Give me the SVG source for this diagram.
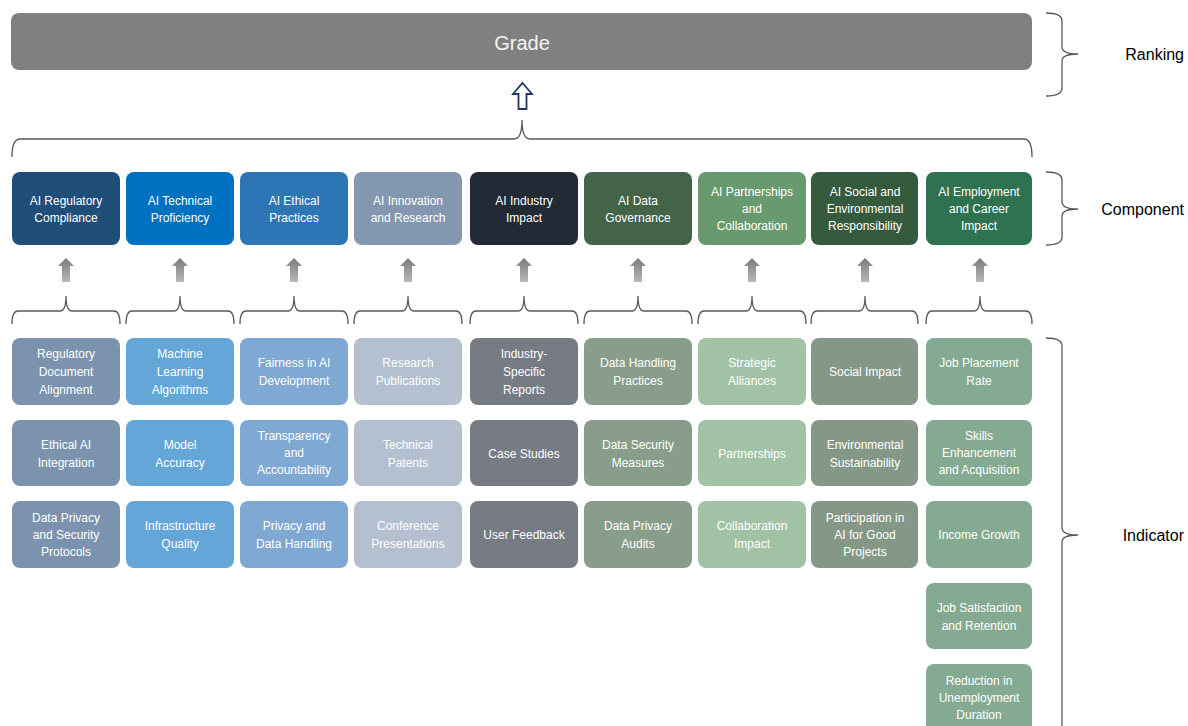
<svg xmlns="http://www.w3.org/2000/svg" width="1188" height="726" viewBox="0 0 1188 726">
  <defs>
    <linearGradient id="grayArrow" x1="0" y1="0" x2="0" y2="1">
      <stop offset="0" stop-color="#7a7a7a"/>
      <stop offset="1" stop-color="#b8b8b8"/>
    </linearGradient>
    <style>
      text { font-family: "Liberation Sans", Arial, sans-serif; fill: #ffffff; text-anchor: middle; }
      .comp text, .ind text { font-size: 12px; }
      .lbl { fill: #000000; font-size: 16px; text-anchor: end; }
      .brace { fill: none; stroke: #595959; stroke-width: 1.3; }
      .garrow { fill: url(#grayArrow); }
    </style>
  </defs>
  <rect width="1188" height="726" fill="#ffffff"/>

  <!-- Ranking -->
  <g id="grade">
    <rect x="11" y="13" width="1021" height="57" rx="8" ry="8" fill="#808080"/>
    <text x="522" y="50" style="font-size:20px;fill:#f4f4f4">Grade</text>
  </g>

  <!-- Connectors: braces and arrows -->
  <g id="connectors">
    <path d="M522.5 83 L532 94 L526.5 94 L526.5 109 L518.5 109 L518.5 94 L513 94 Z" fill="#ffffff" stroke="#203864" stroke-width="1.8" stroke-linejoin="miter"/>
    <path class="brace" d="M12 157 Q12 139 20 139 L514 139 Q522 139 522 120 Q522 139 530 139 L1024 139 Q1032 139 1032 157"/>

    <!-- component-level arrows -->
    <g class="garrow">
      <path d="M66 258 L74 266 L70 266 L70 282 L62 282 L62 266 L58 266 Z"/>
      <path d="M180 258 L188 266 L184 266 L184 282 L176 282 L176 266 L172 266 Z"/>
      <path d="M294 258 L302 266 L298 266 L298 282 L290 282 L290 266 L286 266 Z"/>
      <path d="M408 258 L416 266 L412 266 L412 282 L404 282 L404 266 L400 266 Z"/>
      <path d="M524 258 L532 266 L528 266 L528 282 L520 282 L520 266 L516 266 Z"/>
      <path d="M638 258 L646 266 L642 266 L642 282 L634 282 L634 266 L630 266 Z"/>
      <path d="M752 258 L760 266 L756 266 L756 282 L748 282 L748 266 L744 266 Z"/>
      <path d="M865 258 L873 266 L869 266 L869 282 L861 282 L861 266 L857 266 Z"/>
      <path d="M980 258 L988 266 L984 266 L984 282 L976 282 L976 266 L972 266 Z"/>
    </g>

    <!-- indicator group braces -->
    <path class="brace" d="M12 324 Q12 311 18 311 L60 311 Q66 311 66 296 Q66 311 72 311 L114 311 Q120 311 120 324"/>
    <path class="brace" d="M126 324 Q126 311 132 311 L174 311 Q180 311 180 296 Q180 311 186 311 L228 311 Q234 311 234 324"/>
    <path class="brace" d="M240 324 Q240 311 246 311 L288 311 Q294 311 294 296 Q294 311 300 311 L342 311 Q348 311 348 324"/>
    <path class="brace" d="M354 324 Q354 311 360 311 L402 311 Q408 311 408 296 Q408 311 414 311 L456 311 Q462 311 462 324"/>
    <path class="brace" d="M470 324 Q470 311 476 311 L518 311 Q524 311 524 296 Q524 311 530 311 L572 311 Q578 311 578 324"/>
    <path class="brace" d="M584 324 Q584 311 590 311 L632 311 Q638 311 638 296 Q638 311 644 311 L686 311 Q692 311 692 324"/>
    <path class="brace" d="M698 324 Q698 311 704 311 L746 311 Q752 311 752 296 Q752 311 758 311 L800 311 Q806 311 806 324"/>
    <path class="brace" d="M811 324 Q811 311 817 311 L859 311 Q865 311 865 296 Q865 311 871 311 L912 311 Q918 311 918 324"/>
    <path class="brace" d="M926 324 Q926 311 932 311 L974 311 Q980 311 980 296 Q980 311 986 311 L1026 311 Q1032 311 1032 324"/>

    <!-- level braces on the right -->
    <path class="brace" d="M1046 13 Q1062 13 1062 21 L1062 47 Q1062 54 1078 54 Q1062 54 1062 61 L1062 88 Q1062 96 1046 96"/>
    <path class="brace" d="M1046 172 Q1062 172 1062 180 L1062 202 Q1062 209 1078 209 Q1062 209 1062 216 L1062 237 Q1062 245 1046 245"/>
    <path class="brace" d="M1046 338 Q1062 338 1062 346 L1062 528 Q1062 535 1078 535 Q1062 535 1062 542 L1062 740"/>
  </g>

  <g id="level-labels">
    <text class="lbl" x="1184" y="60">Ranking</text>
    <text class="lbl" x="1184" y="215">Component</text>
    <text class="lbl" x="1184" y="541">Indicator</text>
  </g>

  <!-- Components -->
  <g class="comp">
    <g id="c-regulatory"><rect x="12" y="172" width="108" height="73" rx="8" fill="#1f4e79"/>
      <text x="66" y="205">AI Regulatory<tspan x="66" dy="17">Compliance</tspan></text></g>
    <g id="c-technical"><rect x="126" y="172" width="108" height="73" rx="8" fill="#0070c0"/>
      <text x="180" y="205">AI Technical<tspan x="180" dy="17">Proficiency</tspan></text></g>
    <g id="c-ethical"><rect x="240" y="172" width="108" height="73" rx="8" fill="#2e75b6"/>
      <text x="294" y="205">AI Ethical<tspan x="294" dy="17">Practices</tspan></text></g>
    <g id="c-innovation"><rect x="354" y="172" width="108" height="73" rx="8" fill="#8497b0"/>
      <text x="408" y="205">AI Innovation<tspan x="408" dy="17">and Research</tspan></text></g>
    <g id="c-industry"><rect x="470" y="172" width="108" height="73" rx="8" fill="#222a35"/>
      <text x="524" y="205">AI Industry<tspan x="524" dy="17">Impact</tspan></text></g>
    <g id="c-data"><rect x="584" y="172" width="108" height="73" rx="8" fill="#44644a"/>
      <text x="638" y="205">AI Data<tspan x="638" dy="17">Governance</tspan></text></g>
    <g id="c-partnerships"><rect x="698" y="172" width="108" height="73" rx="8" fill="#689a70"/>
      <text x="752" y="196">AI Partnerships<tspan x="752" dy="17">and</tspan><tspan x="752" dy="17">Collaboration</tspan></text></g>
    <g id="c-social"><rect x="811" y="172" width="107" height="73" rx="8" fill="#355a3d"/>
      <text x="865" y="196">AI Social and<tspan x="865" dy="17">Environmental</tspan><tspan x="865" dy="17">Responsibility</tspan></text></g>
    <g id="c-employment"><rect x="926" y="172" width="106" height="73" rx="8" fill="#2f7250"/>
      <text x="979" y="196">AI Employment<tspan x="979" dy="17">and Career</tspan><tspan x="979" dy="17">Impact</tspan></text></g>
  </g>

  <!-- Indicators -->
  <g class="ind">
    <!-- regulatory compliance -->
    <g id="i-reg-doc"><rect x="12" y="338" width="108" height="67" rx="8" fill="#7b93ae"/>
      <text x="66" y="358">Regulatory<tspan x="66" dy="18">Document</tspan><tspan x="66" dy="18">Alignment</tspan></text></g>
    <g id="i-ethical-ai"><rect x="12" y="420" width="108" height="66" rx="8" fill="#7b93ae"/>
      <text x="66" y="449">Ethical AI<tspan x="66" dy="18">Integration</tspan></text></g>
    <g id="i-privacy-protocols"><rect x="12" y="501" width="108" height="67" rx="8" fill="#7b93ae"/>
      <text x="66" y="522">Data Privacy<tspan x="66" dy="17">and Security</tspan><tspan x="66" dy="17">Protocols</tspan></text></g>

    <!-- technical proficiency -->
    <g id="i-ml"><rect x="126" y="338" width="108" height="67" rx="8" fill="#64a6d8"/>
      <text x="180" y="358">Machine<tspan x="180" dy="18">Learning</tspan><tspan x="180" dy="18">Algorithms</tspan></text></g>
    <g id="i-accuracy"><rect x="126" y="420" width="108" height="66" rx="8" fill="#64a6d8"/>
      <text x="180" y="449">Model<tspan x="180" dy="18">Accuracy</tspan></text></g>
    <g id="i-infra"><rect x="126" y="501" width="108" height="67" rx="8" fill="#64a6d8"/>
      <text x="180" y="530">Infrastructure<tspan x="180" dy="18">Quality</tspan></text></g>

    <!-- ethical practices -->
    <g id="i-fairness"><rect x="240" y="338" width="108" height="67" rx="8" fill="#7fa8d3"/>
      <text x="294" y="367">Fairness in AI<tspan x="294" dy="18">Development</tspan></text></g>
    <g id="i-transparency"><rect x="240" y="420" width="108" height="66" rx="8" fill="#7fa8d3"/>
      <text x="294" y="440">Transparency<tspan x="294" dy="17">and</tspan><tspan x="294" dy="17">Accountability</tspan></text></g>
    <g id="i-privacy-handling"><rect x="240" y="501" width="108" height="67" rx="8" fill="#7fa8d3"/>
      <text x="294" y="530">Privacy and<tspan x="294" dy="18">Data Handling</tspan></text></g>

    <!-- innovation and research -->
    <g id="i-publications"><rect x="354" y="338" width="108" height="67" rx="8" fill="#b4bfd0"/>
      <text x="408" y="367">Research<tspan x="408" dy="18">Publications</tspan></text></g>
    <g id="i-patents"><rect x="354" y="420" width="108" height="66" rx="8" fill="#b4bfd0"/>
      <text x="408" y="449">Technical<tspan x="408" dy="18">Patents</tspan></text></g>
    <g id="i-conference"><rect x="354" y="501" width="108" height="67" rx="8" fill="#b4bfd0"/>
      <text x="408" y="530">Conference<tspan x="408" dy="18">Presentations</tspan></text></g>

    <!-- industry impact -->
    <g id="i-industry-reports"><rect x="470" y="338" width="108" height="67" rx="8" fill="#767b84"/>
      <text x="524" y="358">Industry-<tspan x="524" dy="18">Specific</tspan><tspan x="524" dy="18">Reports</tspan></text></g>
    <g id="i-case-studies"><rect x="470" y="420" width="108" height="66" rx="8" fill="#767b84"/>
      <text x="524" y="458">Case Studies</text></g>
    <g id="i-user-feedback"><rect x="470" y="501" width="108" height="67" rx="8" fill="#767b84"/>
      <text x="524" y="539">User Feedback</text></g>

    <!-- data governance -->
    <g id="i-data-handling"><rect x="584" y="338" width="108" height="67" rx="8" fill="#889e8b"/>
      <text x="638" y="367">Data Handling<tspan x="638" dy="18">Practices</tspan></text></g>
    <g id="i-data-security"><rect x="584" y="420" width="108" height="66" rx="8" fill="#889e8b"/>
      <text x="638" y="449">Data Security<tspan x="638" dy="18">Measures</tspan></text></g>
    <g id="i-privacy-audits"><rect x="584" y="501" width="108" height="67" rx="8" fill="#889e8b"/>
      <text x="638" y="530">Data Privacy<tspan x="638" dy="18">Audits</tspan></text></g>

    <!-- partnerships and collaboration -->
    <g id="i-alliances"><rect x="698" y="338" width="108" height="67" rx="8" fill="#a2c2a6"/>
      <text x="752" y="367">Strategic<tspan x="752" dy="18">Alliances</tspan></text></g>
    <g id="i-partnerships"><rect x="698" y="420" width="108" height="66" rx="8" fill="#a2c2a6"/>
      <text x="752" y="458">Partnerships</text></g>
    <g id="i-collab-impact"><rect x="698" y="501" width="108" height="67" rx="8" fill="#a2c2a6"/>
      <text x="752" y="530">Collaboration<tspan x="752" dy="18">Impact</tspan></text></g>

    <!-- social and environmental responsibility -->
    <g id="i-social"><rect x="811" y="338" width="107" height="67" rx="8" fill="#859887"/>
      <text x="865" y="376">Social Impact</text></g>
    <g id="i-environment"><rect x="811" y="420" width="107" height="66" rx="8" fill="#859887"/>
      <text x="865" y="449">Environmental<tspan x="865" dy="18">Sustainability</tspan></text></g>
    <g id="i-ai-for-good"><rect x="811" y="501" width="107" height="67" rx="8" fill="#859887"/>
      <text x="865" y="522">Participation in<tspan x="865" dy="17">AI for Good</tspan><tspan x="865" dy="17">Projects</tspan></text></g>

    <!-- employment and career impact -->
    <g id="i-placement"><rect x="926" y="338" width="106" height="67" rx="8" fill="#84aa91"/>
      <text x="979" y="367">Job Placement<tspan x="979" dy="18">Rate</tspan></text></g>
    <g id="i-skills"><rect x="926" y="420" width="106" height="66" rx="8" fill="#84aa91"/>
      <text x="979" y="440">Skills<tspan x="979" dy="17">Enhancement</tspan><tspan x="979" dy="17">and Acquisition</tspan></text></g>
    <g id="i-income"><rect x="926" y="501" width="106" height="67" rx="8" fill="#84aa91"/>
      <text x="979" y="539">Income Growth</text></g>
    <g id="i-satisfaction"><rect x="926" y="583" width="106" height="66" rx="8" fill="#84aa91"/>
      <text x="979" y="612">Job Satisfaction<tspan x="979" dy="18">and Retention</tspan></text></g>
    <g id="i-unemployment"><rect x="926" y="664" width="106" height="70" rx="8" fill="#84aa91"/>
      <text x="979" y="685">Reduction in<tspan x="979" dy="17">Unemployment</tspan><tspan x="979" dy="17">Duration</tspan></text></g>
  </g>
</svg>
